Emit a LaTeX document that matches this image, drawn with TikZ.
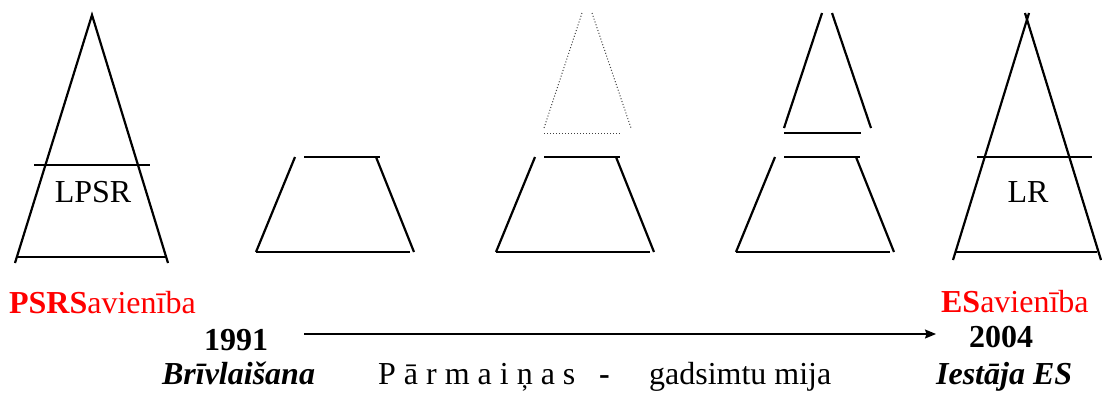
\documentclass[tikz,border=0pt]{standalone}
\usepackage{fontspec}
\setmainfont{Liberation Serif}
\usetikzlibrary{arrows,arrows.meta}

\begin{document}
\begin{tikzpicture}[x=1pt,y=-1pt,line width=2.2pt,>={Stealth[length=11pt,width=9pt,inset=1.5pt]},
                    every node/.style={inner sep=0pt,font=\fontsize{32}{38}\selectfont}]
  \tikzstyle{dots}=[line width=1pt,dotted,black!75]
  \tikzstyle{red text}=[text=red]
  \tikzstyle{year}=[anchor=base,font=\fontsize{32}{38}\selectfont\bfseries]
  \tikzstyle{event}=[anchor=base west,font=\fontsize{32}{38}\selectfont\bfseries\itshape]

  \useasboundingbox (0,0) rectangle (1102,392);

  % LPSR
  \draw (15,263) -- (92,15) -- (168,263);
  \draw (34,165) -- (150,165);
  \draw (17,257) -- (167,257);
  \node[anchor=base] (lpsr) at (93,202) {LPSR};

  % lower parts
  \foreach \dx in {0,240,480}{
    \begin{scope}[xshift=\dx]
      \draw (295,157) -- (256,252);
      \draw (304,157) -- (380,157);
      \draw (376,157) -- (414,252);
      \draw (256,252) -- (410,252);
    \end{scope}
  }

  % upper parts
  \draw[dots] (582,13) -- (544,128);
  \draw[dots] (592,13) -- (631,128);
  \draw[dots] (544,133) -- (621,133);
  \draw (822,13) -- (784,128);
  \draw (832,13) -- (871,128);
  \draw (784,133) -- (861,133);

  % LR
  \draw (953,260) -- (1029,13);
  \draw (1101,260) -- (1025,13);
  \draw (977,157) -- (1092,157);
  \draw (955,252) -- (1097,252);
  \node[anchor=base] (lr) at (1028,202) {LR};

  % time line
  \node[red text,anchor=base west] (psrs) at (8,313) {\textbf{PSRS}avienība};
  \node[red text,anchor=base west] (es) at (940,312) {\textbf{ES}avienība};
  \node[year] (y1991) at (236,350) {1991};
  \node[year] (y2004) at (1001,347) {2004};
  \coordinate (arrS) at (304,334);
  \coordinate (arrE) at (936,334);
  \draw[->,line width=1.5pt] (arrS) -- (arrE);

  \node[event] (free) at (161,384) {Brīvlaišana};
  \node[anchor=base west] (change) at (377,384) {P ā r m a i ņ a s};
  \node[anchor=base west,font=\fontsize{32}{38}\selectfont\bfseries] (dash) at (598,384) {-};
  \node[anchor=base west] (turn) at (648,384) {gadsimtu mija};
  \node[event] (join) at (935,384) {Iestāja ES};
\end{tikzpicture}
\end{document}
